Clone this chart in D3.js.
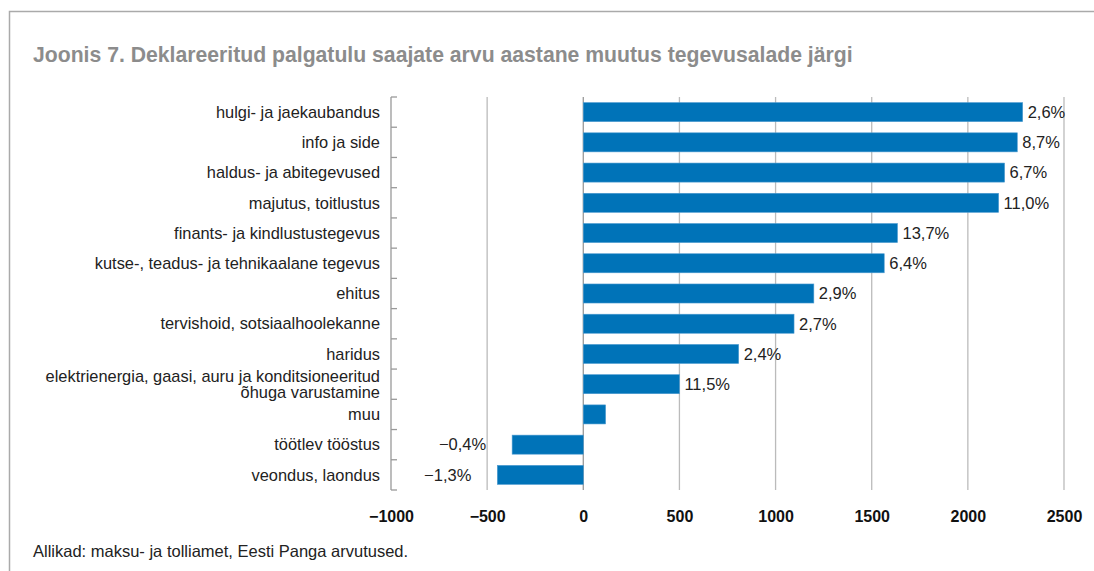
<!DOCTYPE html>
<html>
<head>
<meta charset="utf-8">
<script src="https://cdn.jsdelivr.net/npm/d3@7"></script>
<style>
  body { margin: 0; background: #fff; }
  svg { font-family: "Liberation Sans", Arial, sans-serif; }
</style>
</head>
<body>
<div id="chart"></div>
<script>
// categories top to bottom, change in number of wage earners
const categories = [
  "hulgi- ja jaekaubandus",
  "info ja side",
  "haldus- ja abitegevused",
  "majutus, toitlustus",
  "finants- ja kindlustustegevus",
  "kutse-, teadus- ja tehnikaalane tegevus",
  "ehitus",
  "tervishoid, sotsiaalhoolekanne",
  "haridus",
  "elektrienergia, gaasi, auru ja konditsioneeritud|õhuga varustamine",
  "muu",
  "töötlev tööstus",
  "veondus, laondus"
];
const values = [2285, 2257, 2191, 2160, 1634, 1565, 1199, 1096, 808, 500, 116, -370, -447];
const pctLabels = ["2,6%", "8,7%", "6,7%", "11,0%", "13,7%", "6,4%", "2,9%", "2,7%", "2,4%", "11,5%", "", "\u22120,4%", "\u22121,3%"];
const xTicks = [-1000, -500, 0, 500, 1000, 1500, 2000, 2500];

const W = 1094, H = 571;
const margin = { top: 97, right: 30, bottom: 81, left: 391 };
const width = 1064 - margin.left, height = 490 - margin.top;

const svg = d3.select("#chart").append("svg")
  .attr("width", W).attr("height", H);

// frame
svg.append("path")
  .attr("d", "M9.5," + H + "V11.5H" + W)
  .attr("fill", "none").attr("stroke", "#aaa").attr("stroke-width", 1.5);

svg.append("text")
  .attr("x", 33).attr("y", 62)
  .attr("font-size", 21.2).attr("font-weight", "bold").attr("fill", "#8c8c8c")
  .text("Joonis 7. Deklareeritud palgatulu saajate arvu aastane muutus tegevusalade järgi");

svg.append("text")
  .attr("x", 33).attr("y", 557)
  .attr("font-size", 16.5).attr("fill", "#222")
  .text("Allikad: maksu- ja tolliamet, Eesti Panga arvutused.");

const g = svg.append("g")
  .attr("transform", "translate(" + margin.left + "," + margin.top + ")");

const x = d3.scaleLinear().domain([-1000, 2500]).range([0, width]);
const y = d3.scaleBand().domain(categories).range([0, height]).paddingInner(0.37).paddingOuter(0.185);

// gridlines
g.selectAll(".grid").data(xTicks.filter(d => d > -1000))
  .join("line")
  .attr("class", "grid")
  .attr("x1", d => x(d)).attr("x2", d => x(d))
  .attr("y1", 0).attr("y2", height)
  .attr("stroke", d => d === 0 ? "#999" : "#bbb").attr("stroke-width", 1.3);

// x axis labels
const xAxis = d3.axisBottom(x).tickValues(xTicks).tickSize(0).tickPadding(0)
  .tickFormat(d => d < 0 ? "\u2212" + Math.abs(d) : d);
g.append("g")
  .attr("transform", "translate(0," + (height + 21) + ")")
  .call(xAxis)
  .call(s => s.select(".domain").remove())
  .call(s => s.selectAll("text").attr("font-size", 16).attr("font-weight", "bold")
    .attr("fill", "#111").attr("font-family", "Liberation Sans, Arial, sans-serif"));

// left axis line with inward ticks at band boundaries
const step = y.step();
g.append("line").attr("x1", 0).attr("x2", 0).attr("y1", 0).attr("y2", height)
  .attr("stroke", "#999").attr("stroke-width", 1.3);
g.selectAll(".ytick").data(d3.range(categories.length + 1))
  .join("line")
  .attr("class", "ytick")
  .attr("x1", 0).attr("x2", 6)
  .attr("y1", i => i * step).attr("y2", i => i * step)
  .attr("stroke", "#999").attr("stroke-width", 1.3);

// category labels
const lab = g.selectAll(".cat").data(categories)
  .join("text")
  .attr("class", "cat")
  .attr("x", -11)
  .attr("y", d => y(d) + y.bandwidth() / 2)
  .attr("text-anchor", "end")
  .attr("font-size", 16.4).attr("fill", "#222");
lab.each(function(d) {
  const lines = d.split("|");
  const t = d3.select(this);
  lines.forEach((l, i) => {
    t.append("tspan").attr("x", -11)
      .attr("dy", i === 0 ? (0.35 - (lines.length - 1) * 0.5) + "em" : "1.0em")
      .text(l);
  });
});

// bars
g.selectAll(".bar").data(values)
  .join("rect")
  .attr("class", "bar")
  .attr("x", d => x(Math.min(0, d)))
  .attr("y", (d, i) => y(categories[i]))
  .attr("width", d => Math.abs(x(d) - x(0)))
  .attr("height", y.bandwidth())
  .attr("fill", "#0073b8")
  .attr("stroke", "#4d9bd0").attr("stroke-width", 0.6);

// value labels
g.selectAll(".val").data(values)
  .join("text")
  .attr("class", "val")
  .attr("x", d => d >= 0 ? x(d) + 5 : x(d) - 26)
  .attr("y", (d, i) => y(categories[i]) + y.bandwidth() / 2)
  .attr("dy", "0.35em")
  .attr("text-anchor", d => d >= 0 ? "start" : "end")
  .attr("font-size", 16.5).attr("fill", "#222")
  .text((d, i) => pctLabels[i]);
</script>
</body>
</html>
